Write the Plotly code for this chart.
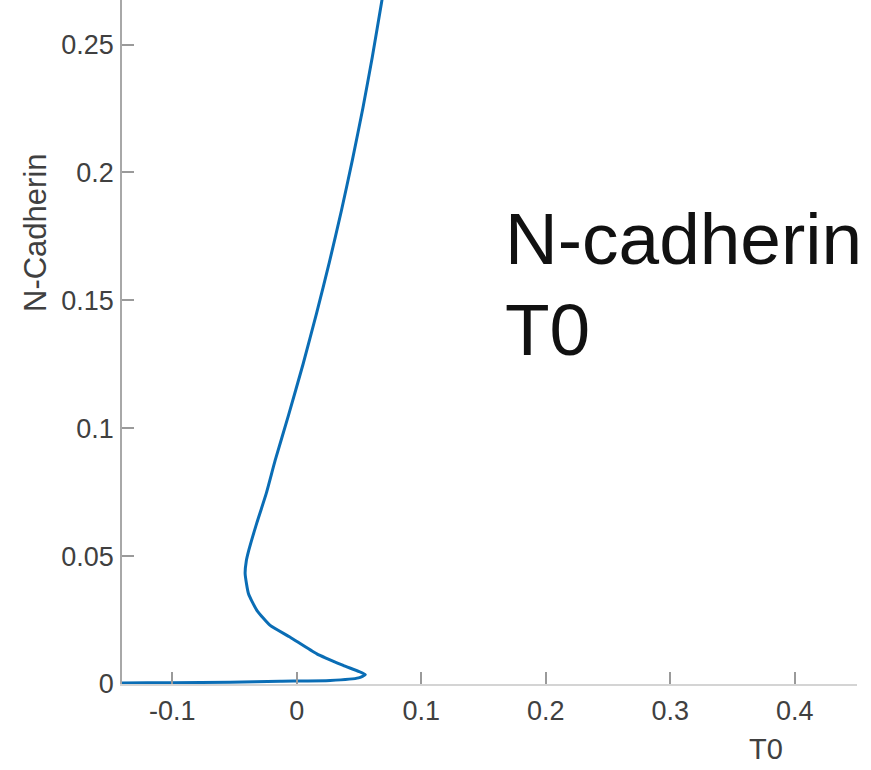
import plotly.graph_objects as go

# Curve (T0 on x, N-Cadherin on y), in drawing order
t0 = [-0.160, -0.1403, -0.100, -0.0535, -0.0133, 0.0269, 0.0497, 0.0551,
      0.0376, 0.0162, -0.0052, -0.0213, -0.0320, -0.0387, -0.0414, -0.0405,
      -0.0385, -0.0322, -0.0245, -0.0173, -0.0066, 0.0051, 0.0160, 0.0263,
      0.0359, 0.0448, 0.0531, 0.0607, 0.0685, 0.0711]
ncad = [0.0003, 0.0004, 0.0005, 0.0007, 0.0011, 0.0014, 0.0024, 0.0037,
        0.0072, 0.0118, 0.0183, 0.0229, 0.0288, 0.0353, 0.0431, 0.0480,
        0.0522, 0.0627, 0.0744, 0.0874, 0.1050, 0.1250, 0.1450, 0.1650,
        0.1850, 0.2050, 0.2250, 0.2450, 0.2674, 0.2750]

x_ticks = [-0.1, 0, 0.1, 0.2, 0.3, 0.4]
x_labels = ["-0.1", "0", "0.1", "0.2", "0.3", "0.4"]
y_ticks = [0, 0.05, 0.1, 0.15, 0.2, 0.25]
y_labels = ["0", "0.05", "0.1", "0.15", "0.2", "0.25"]

x_title = "T0"
y_title = "N-Cadherin"
big_text = ["N-cadherin", "T0"]

W, H = 871, 770
L, R, T, B = 122, 14, 0, 86

fig = go.Figure()
fig.add_trace(go.Scatter(
    x=t0, y=ncad, mode="lines",
    line=dict(color="#0a6db5", width=3, shape="spline", smoothing=0.5),
    showlegend=False, hoverinfo="skip"))

tickfont = dict(family="Liberation Sans, Arial, sans-serif", size=27, color="#404040")

fig.update_layout(
    width=W, height=H,
    margin=dict(l=L, r=R, t=T, b=B, pad=0),
    paper_bgcolor="white", plot_bgcolor="white",
    xaxis=dict(range=[-0.1403, 0.4500], tickvals=x_ticks, ticktext=x_labels,
               showgrid=False, zeroline=False, showline=True,
               linecolor="#d4d4d4", linewidth=1.5, automargin=False,
               ticks="inside", ticklen=12, tickcolor="#9a9a9a", tickwidth=1.5,
               tickfont=tickfont, ticklabelstandoff=2),
    yaxis=dict(range=[0, 0.2674], tickvals=y_ticks, ticktext=y_labels,
               showgrid=False, zeroline=False, showline=True,
               linecolor="#a8a8a8", linewidth=1.5, automargin=False,
               ticks="inside", ticklen=12, tickcolor="#9a9a9a", tickwidth=1.5,
               tickfont=tickfont, ticklabelstandoff=1),
)

def px_to_paper_x(px):
    return (px - L) / (W - L - R)

def py_to_paper_y(py):
    return (H - B - py) / (H - B - T)

# axis titles placed as in the reference
fig.add_annotation(text=x_title, xref="paper", yref="paper",
                   x=px_to_paper_x(766), y=py_to_paper_y(749),
                   xanchor="center", yanchor="middle", showarrow=False,
                   font=dict(family="Liberation Sans, Arial, sans-serif", size=29, color="#404040"))
fig.add_annotation(text=y_title, xref="paper", yref="paper",
                   x=px_to_paper_x(35), y=py_to_paper_y(233), textangle=-90,
                   xanchor="center", yanchor="middle", showarrow=False,
                   font=dict(family="Liberation Sans, Arial, sans-serif", size=31, color="#404040"))

# large label
for txt, cy in zip(big_text, [238.3, 330]):
    fig.add_annotation(text=txt, xref="paper", yref="paper",
                       x=px_to_paper_x(503), y=py_to_paper_y(cy),
                       xanchor="left", yanchor="middle", showarrow=False,
                       font=dict(family="Liberation Sans, Arial, sans-serif", size=73, color="#111111"))

fig.write_html("out.html", config={"displayModeBar": False},
               post_script="document.body.style.margin='0';")
